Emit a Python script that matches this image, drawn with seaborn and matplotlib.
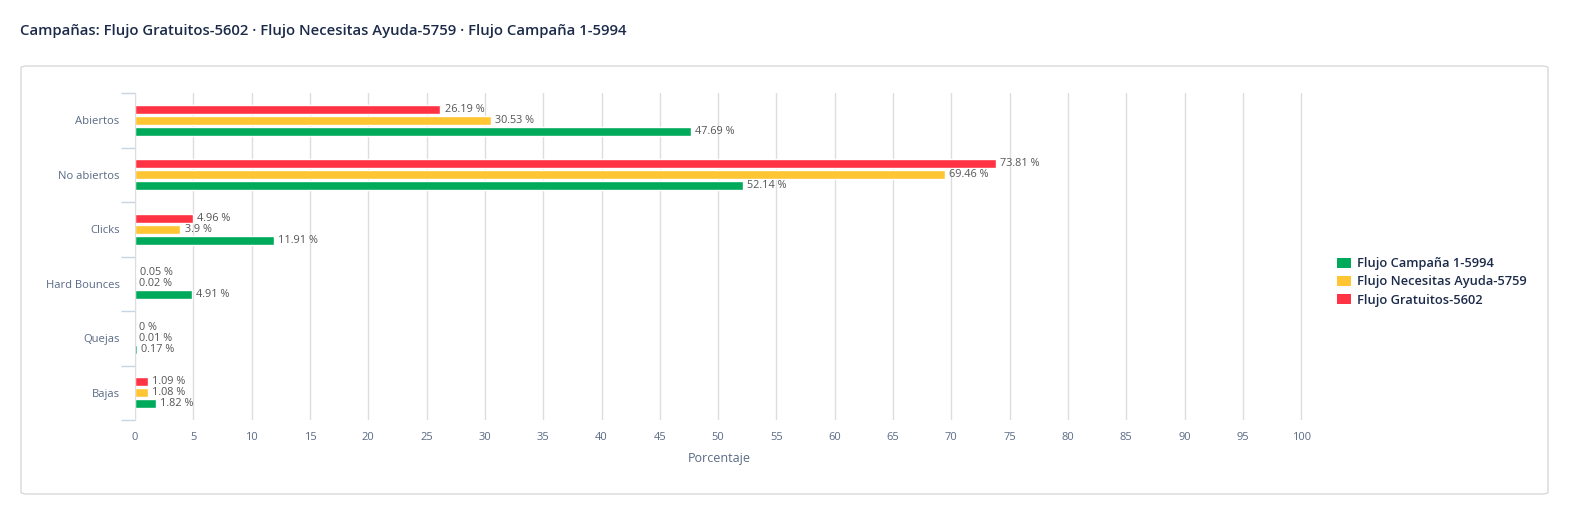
import pandas as pd
import numpy as np
import matplotlib
matplotlib.use("Agg")
import matplotlib.pyplot as plt
from matplotlib.patches import FancyBboxPatch, Patch
import seaborn as sns

# data
categories = ["Abiertos", "No abiertos", "Clicks", "Hard Bounces", "Quejas", "Bajas"]
series_names = ["Flujo Gratuitos-5602", "Flujo Necesitas Ayuda-5759", "Flujo Campaña 1-5994"]
gratuitos = [26.19, 73.81, 4.96, 0.05, 0.0, 1.09]
necesitas = [30.53, 69.46, 3.9, 0.02, 0.01, 1.08]
campana = [47.69, 52.14, 11.91, 4.91, 0.17, 1.82]
colors = ["#ff3344", "#ffc533", "#00aa5b"]
x_ticks = list(range(0, 101, 5))

rows = []
for name, vals in zip(series_names, [gratuitos, necesitas, campana]):
    for cat, v in zip(categories, vals):
        rows.append({"categoria": cat, "serie": name, "valor": v})
df = pd.DataFrame(rows)

sns.set_style("white")
plt.rcParams['font.family'] = ['Open Sans', 'DejaVu Sans']

W, H = 1577, 517
fig = plt.figure(figsize=(W / 100, H / 100), dpi=100)

# card frame behind the axes
card = FancyBboxPatch((21 / W, 1 - 494 / H), (1548 - 21) / W, (494 - 66) / H,
                      boxstyle="round,pad=0,rounding_size=0.004",
                      transform=fig.transFigure, facecolor="white",
                      edgecolor="#d9d9d9", linewidth=1.0, zorder=-5)
fig.patches.append(card)

fig.text(20 / W, 1 - 31 / H, "Campañas: Flujo Gratuitos-5602 · Flujo Necesitas Ayuda-5759 · Flujo Campaña 1-5994",
         fontsize=10.75, fontweight="semibold", color="#1c2b4a", va="center", ha="left")

ax = fig.add_axes([135 / W, 1 - 420 / H, (1303 - 135) / W, (420 - 93) / H])
ax.set_zorder(2)
ax.set_facecolor("none")

sns.barplot(data=df, y="categoria", x="valor", hue="serie", order=categories,
            hue_order=series_names, palette=colors, orient="h", width=0.6,
            gap=0.15, ax=ax, legend=False, saturation=1)

# value labels
for container, vals in zip(ax.containers, [gratuitos, necesitas, campana]):
    labels = [f"{v:g} %" for v in vals]
    ax.bar_label(container, labels=labels, padding=3, fontsize=7.8, color="#555555")

ax.set_xlim(0, 100.15)
ax.set_ylim(len(categories) - 0.5, -0.5)
ax.set_xticks(x_ticks)
ax.set_xticklabels([str(t) for t in x_ticks], fontsize=8, color="#5a6a85")
ax.grid(axis="x", color="#dddddd", linewidth=1)
ax.set_axisbelow(True)

ax.set_yticks(range(len(categories)))
ax.set_yticklabels(categories, fontsize=8.1, color="#5a6a85")
ax.set_yticks(np.arange(-0.5, len(categories), 1), minor=True)
ax.tick_params(axis="y", which="major", left=False, length=0, pad=11)
ax.tick_params(axis="y", which="minor", left=True, length=10, color="#c8d4e3", width=1)
ax.tick_params(axis="x", length=0, pad=9)

ax.set_xlabel("Porcentaje", fontsize=9, color="#5a6a85", labelpad=6)
ax.set_ylabel("")

for s in ["top", "right", "bottom"]:
    ax.spines[s].set_visible(False)
ax.spines["left"].set_color("#dddddd")

handles = [Patch(facecolor=c, edgecolor="none") for c in colors[::-1]]
fig.legend(handles, series_names[::-1], loc="center left",
           bbox_to_anchor=(1325 / W, 1 - 282 / H), frameon=False,
           prop={"size": 9.3, "weight": "semibold"}, labelcolor="#1c2b4a",
           handlelength=1.15, handleheight=0.85, handletextpad=0.45, labelspacing=0.4)

fig.savefig("out.png", dpi=100)
